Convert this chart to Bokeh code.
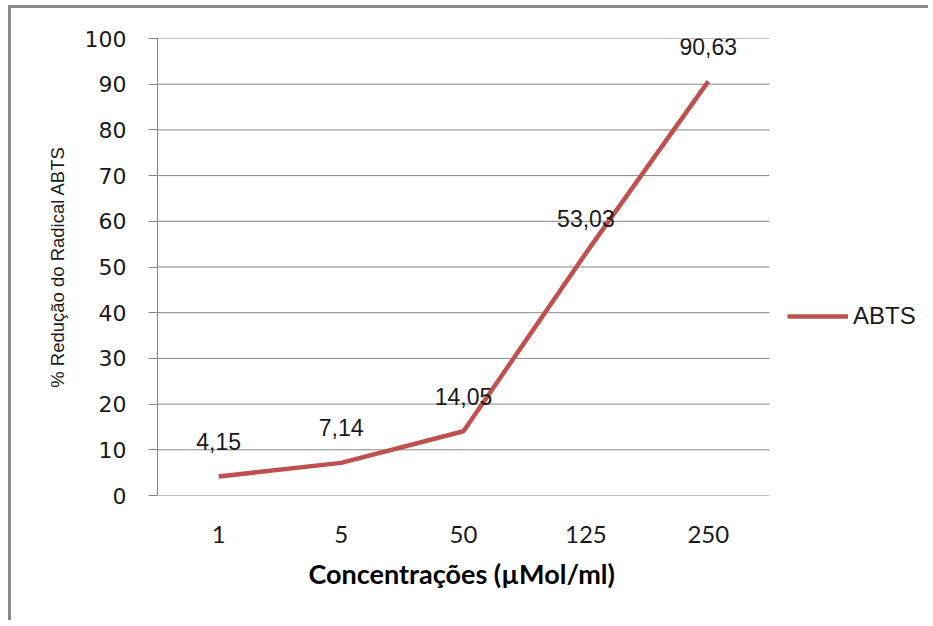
from bokeh.plotting import figure
from bokeh.models import Range1d, Legend, LegendItem, ColumnDataSource, FixedTicker, Title
from bokeh.core.properties import value
from bokeh.embed import file_html
from bokeh.resources import INLINE

categories = ["1", "5", "50", "125", "250"]
abts = [4.15, 7.14, 14.05, 53.03, 90.63]
y_ticks = list(range(0, 101, 10))
series_name = "ABTS"
x_title = "Concentrações (µMol/ml)"
y_title = "% Redução do Radical ABTS"

# layout (pixels)
W, H = 920, 615
LEFT, TOP, BOTTOM, RIGHT = 146, 30, 128, 5
CAT_PX = 612                      # width taken by the category area
FRAME_W = W - LEFT - RIGHT
n = len(categories)
x_end = n * FRAME_W / CAT_PX      # extra room on the right holds the legend

pos = [i + 0.5 for i in range(n)]
labels = [f"{v:.2f}".replace(".", ",") for v in abts]
src = ColumnDataSource(dict(x=pos, y=abts, lab=labels))

GRID = "#868686"
RED = "#C0504D"

p = figure(width=W, height=H, x_range=Range1d(0, x_end), y_range=Range1d(0, 100),
           output_backend="svg", toolbar_location=None,
           min_border_left=LEFT, min_border_top=TOP, min_border_bottom=BOTTOM, min_border_right=RIGHT)
p.styles = {"border-left": "3px solid #8a8a8a", "border-top": "3px solid #8a8a8a",
            "margin-left": "8px", "margin-top": "5px"}
p.outline_line_color = None
p.background_fill_color = "white"
p.border_fill_color = "white"

# horizontal gridlines limited to the category area
p.xgrid.grid_line_color = None
p.ygrid.grid_line_color = None
p.segment(x0=[0] * len(y_ticks), x1=[n] * len(y_ticks), y0=y_ticks, y1=y_ticks,
          line_color=GRID, line_width=1)

r = p.line("x", "y", source=src, line_color=RED, line_width=4.5)
p.text("x", "y", text="lab", source=src, y_offset=-35, text_align="center", text_baseline="middle",
       text_font=value("Liberation Sans"), text_font_size="23px", text_color="#1a1a1a")

# y axis
p.yaxis.ticker = FixedTicker(ticks=y_ticks)
p.yaxis.axis_line_color = GRID
p.yaxis.major_tick_line_color = GRID
p.yaxis.major_tick_out = 9
p.yaxis.major_tick_in = 0
p.yaxis.minor_tick_line_color = None
p.yaxis.major_label_text_font = "DejaVu Sans"
p.yaxis.major_label_text_font_size = "22px"
p.yaxis.major_label_text_color = "#1a1a1a"
p.yaxis.major_label_standoff = 22
p.yaxis.axis_label = y_title
p.yaxis.axis_label_text_font = "Liberation Sans"
p.yaxis.axis_label_text_font_size = "18.5px"
p.yaxis.axis_label_text_font_style = "normal"
p.yaxis.axis_label_text_color = "#1a1a1a"
p.yaxis.axis_label_standoff = 14

# x axis
p.xaxis.ticker = FixedTicker(ticks=pos)
p.xaxis.major_label_overrides = {x: c for x, c in zip(pos, categories)}
p.xaxis.axis_line_color = None
p.xaxis.major_tick_line_color = None
p.xaxis.minor_tick_line_color = None
p.xaxis.major_tick_out = 0
p.xaxis.major_tick_in = 0
p.xaxis.major_label_text_font = "Lato"
p.xaxis.major_label_text_font_size = "24px"
p.xaxis.major_label_text_color = "#1a1a1a"
p.xaxis.major_label_standoff = 30

# x-axis title centred under the category area
xt = Title(text=x_title, align="left", offset=151, standoff=18,
           text_font="Lato", text_font_size="27px", text_font_style="bold", text_color="#000000")
p.add_layout(xt, "below")

legend = Legend(items=[LegendItem(label=series_name, renderers=[r])],
                location=(630, 165), padding=0, margin=0, spacing=0,
                glyph_width=61, glyph_height=24, label_standoff=5,
                label_text_font="Liberation Sans", label_text_font_size="24px",
                label_text_color="#1a1a1a", label_text_baseline="middle",
                border_line_color=None, background_fill_alpha=0)
p.add_layout(legend, "center")

open("out.html", "w").write(file_html(p, INLINE))
